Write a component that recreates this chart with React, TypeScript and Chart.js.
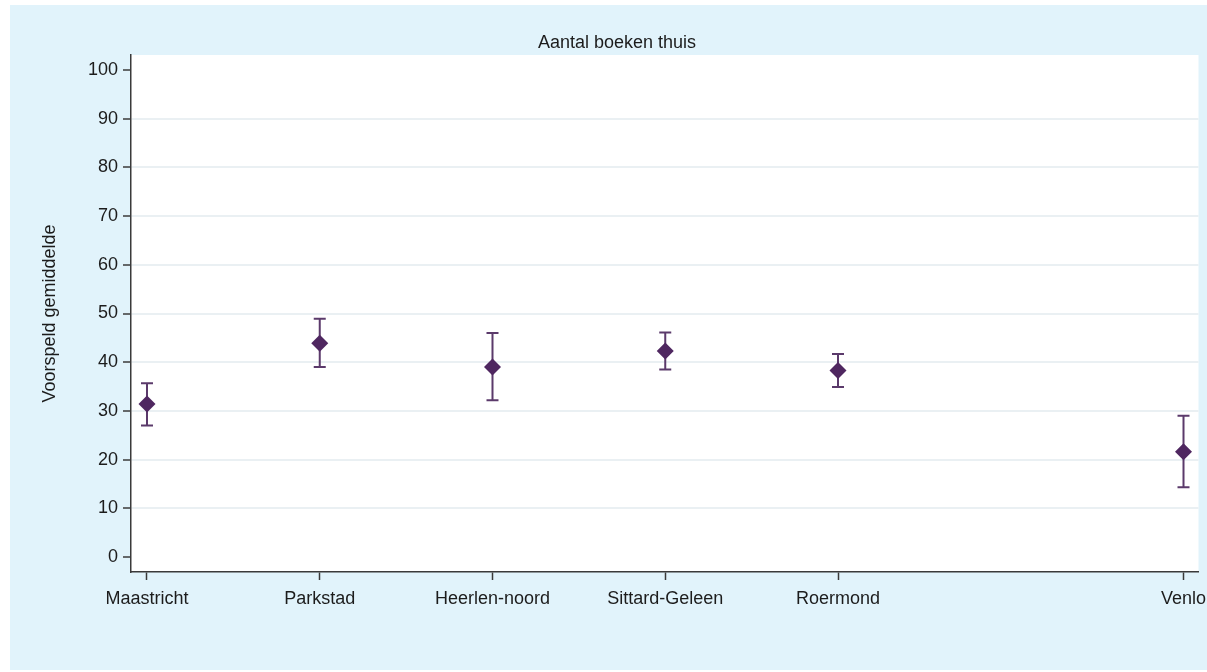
import React, { useEffect, useRef } from "react";
import { Chart, registerables } from "chart.js";

Chart.register(...registerables);

const categories = ["Maastricht", "Parkstad", "Heerlen-noord", "Sittard-Geleen", "Roermond", "Venlo"];
const positions = [1, 2, 3, 4, 5, 7];
const means = [31.4, 43.9, 39.0, 42.3, 38.3, 21.6];
const lower = [27.0, 39.0, 32.2, 38.5, 34.9, 14.3];
const upper = [35.7, 48.9, 46.0, 46.1, 41.7, 29.0];
const yTicks = [0, 10, 20, 30, 40, 50, 60, 70, 80, 90, 100];

const chartTitle = "Aantal boeken thuis";
const yTitle = "Voorspeld gemiddelde";

const FONT = '"Liberation Sans", Arial, sans-serif';
const TEXT = "#1c1c1c";
const BG_BLUE = "#e1f3fb";
const MARK = "#4f2760";
const BAR = "#5b3a6b";

const decorPlugin = {
  id: "decor",
  beforeDraw(chart: any) {
    const { ctx, chartArea, width, height } = chart;
    ctx.save();
    ctx.fillStyle = "#ffffff";
    ctx.fillRect(0, 0, width, height);
    ctx.fillStyle = BG_BLUE;
    ctx.fillRect(10, 5, width - 10, height - 7);
    ctx.fillStyle = "#ffffff";
    ctx.fillRect(chartArea.left, chartArea.top, chartArea.right - chartArea.left, chartArea.bottom - chartArea.top);
    ctx.fillStyle = TEXT;
    ctx.font = `18px ${FONT}`;
    ctx.textAlign = "center";
    ctx.textBaseline = "middle";
    ctx.fillText(chartTitle, 617, 43);
    ctx.translate(50, (chartArea.top + chartArea.bottom) / 2);
    ctx.rotate(-Math.PI / 2);
    ctx.fillText(yTitle, 0, 0);
    ctx.restore();
  },
  beforeDatasetsDraw(chart: any) {
    const { ctx, scales } = chart;
    const xs = scales.x;
    const ys = scales.y;
    ctx.save();
    ctx.strokeStyle = BAR;
    ctx.lineWidth = 2;
    for (let i = 0; i < positions.length; i++) {
      const x = xs.getPixelForValue(positions[i]);
      const yl = ys.getPixelForValue(lower[i]);
      const yu = ys.getPixelForValue(upper[i]);
      ctx.beginPath();
      ctx.moveTo(x, yl);
      ctx.lineTo(x, yu);
      ctx.moveTo(x - 6, yl);
      ctx.lineTo(x + 6, yl);
      ctx.moveTo(x - 6, yu);
      ctx.lineTo(x + 6, yu);
      ctx.stroke();
    }
    ctx.restore();
  },
};

export default function App() {
  const ref = useRef<HTMLCanvasElement | null>(null);
  useEffect(() => {
    if (!ref.current) return;
    const chart = new Chart(ref.current, {
      type: "scatter",
      data: {
        datasets: [
          {
            data: positions.map((p, i) => ({ x: p, y: means[i] })),
            pointStyle: "rectRot",
            pointRadius: 8.5,
            pointHoverRadius: 8.5,
            backgroundColor: MARK,
            borderColor: MARK,
            borderWidth: 0,
          },
        ],
      },
      options: {
        responsive: false,
        animation: false,
        events: [],
        layout: { padding: { left: 0, right: 8, top: 55, bottom: 0 } },
        plugins: { legend: { display: false }, tooltip: { enabled: false }, title: { display: false } },
        scales: {
          x: {
            type: "linear",
            min: 0.9074,
            max: 7.0868,
            afterBuildTicks: (s: any) => {
              s.ticks = positions.map((v) => ({ value: v }));
            },
            afterFit: (s: any) => {
              s.height = 100;
              s.paddingLeft = 0;
              s.paddingRight = 0;
            },
            ticks: {
              autoSkip: false,
              maxRotation: 0,
              minRotation: 0,
              padding: 8,
              color: TEXT,
              font: { family: FONT, size: 18 },
              callback: (v: any) => {
                const idx = positions.indexOf(Number(v));
                return idx >= 0 ? categories[idx] : "";
              },
            },
            grid: { drawOnChartArea: false, drawTicks: true, tickLength: 8, tickColor: "#3a3a3a", tickWidth: 1.5 },
            border: { display: true, color: "#3a3a3a", width: 1.5 },
          },
          y: {
            type: "linear",
            min: -3.08,
            max: 103.08,
            afterBuildTicks: (s: any) => {
              s.ticks = yTicks.map((v) => ({ value: v }));
            },
            afterFit: (s: any) => {
              s.width = 131;
            },
            ticks: {
              autoSkip: false,
              padding: 5,
              color: TEXT,
              font: { family: FONT, size: 18 },
              callback: (v: any) => String(v),
            },
            grid: {
              drawTicks: true,
              tickLength: 8,
              tickColor: "#3a3a3a",
              tickWidth: 1.5,
              lineWidth: 2,
              color: (c: any) => (c.tick && (c.tick.value === 0 || c.tick.value === 100) ? "rgba(0,0,0,0)" : "#eaf0f3"),
            },
            border: { display: true, color: "#3a3a3a", width: 1.5 },
          },
        },
      },
      plugins: [decorPlugin],
    } as any);
    return () => chart.destroy();
  }, []);
  return (
    <div style={{ position: "fixed", left: 0, top: 0, width: 1207, height: 672 }}>
      <canvas ref={ref} width={1207} height={672} style={{ width: 1207, height: 672, display: "block" }} />
    </div>
  );
}
